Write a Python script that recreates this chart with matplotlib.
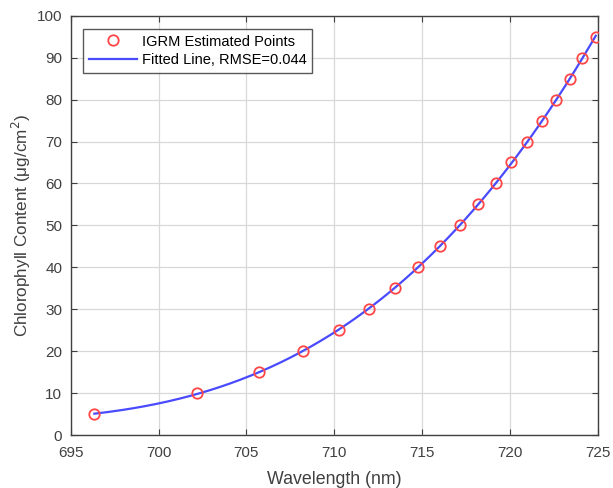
import numpy as np
import matplotlib
matplotlib.use("Agg")
import matplotlib.pyplot as plt

plt.rcParams['font.family'] = ['Liberation Sans', 'DejaVu Sans']

# IGRM estimated points: red-edge wavelength (nm) vs chlorophyll content
wavelength = [696.35, 702.2, 705.7, 708.2, 710.26, 711.97, 713.45, 714.76, 716.0,
              717.16, 718.2, 719.19, 720.08, 721.0, 721.83, 722.65, 723.43, 724.13, 724.89]
chlorophyll = [5, 10, 15, 20, 25, 30, 35, 40, 45, 50, 55, 60, 65, 70, 75, 80, 85, 90, 95]
rmse_label = "0.044"

x_ticks = [695, 700, 705, 710, 715, 720, 725]
y_ticks = [0, 10, 20, 30, 40, 50, 60, 70, 80, 90, 100]

fig = plt.figure(figsize=(6.13, 4.88), dpi=100)
ax = fig.add_axes([0.1153, 0.1086, 0.8597, 0.8592])

# Polynomial fit of chlorophyll on wavelength
coef = np.polyfit(wavelength, chlorophyll, 3)
xs = np.linspace(min(wavelength), max(wavelength), 300)
ax.plot(wavelength, chlorophyll, 'o', mfc='none', mec='#ff4545', mew=1.3, ms=7.5,
        label='IGRM Estimated Points', zorder=3)
ax.plot(xs, np.polyval(coef, xs), '-', color='#4a4aff', lw=1.6,
        label=f'Fitted Line, RMSE={rmse_label}', zorder=2)

ax.set_xlim(695, 725)
ax.set_ylim(0, 100)
ax.set_xticks(x_ticks)
ax.set_yticks(y_ticks)
ax.grid(True, color='#d8d8d8', lw=0.9)
ax.set_axisbelow(True)
ax.tick_params(direction='in', top=True, right=True, length=4, width=0.8,
               colors='#404040', labelsize=11, labelcolor='#404040')
ax.tick_params(axis='x', pad=8)
ax.tick_params(axis='y', pad=6)
for s in ax.spines.values():
    s.set_color('#404040')
    s.set_linewidth(1.0)

ax.set_xlabel('Wavelength (nm)', fontsize=12.8, color='#404040', labelpad=8)
ax.set_ylabel('Chlorophyll Content (μg/cm$^2$)', fontsize=12.3, color='#404040', labelpad=3)

leg = ax.legend(loc='upper left', bbox_to_anchor=(0.023, 0.969), borderaxespad=0,
                fontsize=10.5, frameon=True, fancybox=False, edgecolor='#303030',
                borderpad=0.4, handlelength=3.3, labelspacing=0.3, handletextpad=0.35)
leg.get_frame().set_linewidth(1.0)

fig.savefig('out.png', dpi=100)
